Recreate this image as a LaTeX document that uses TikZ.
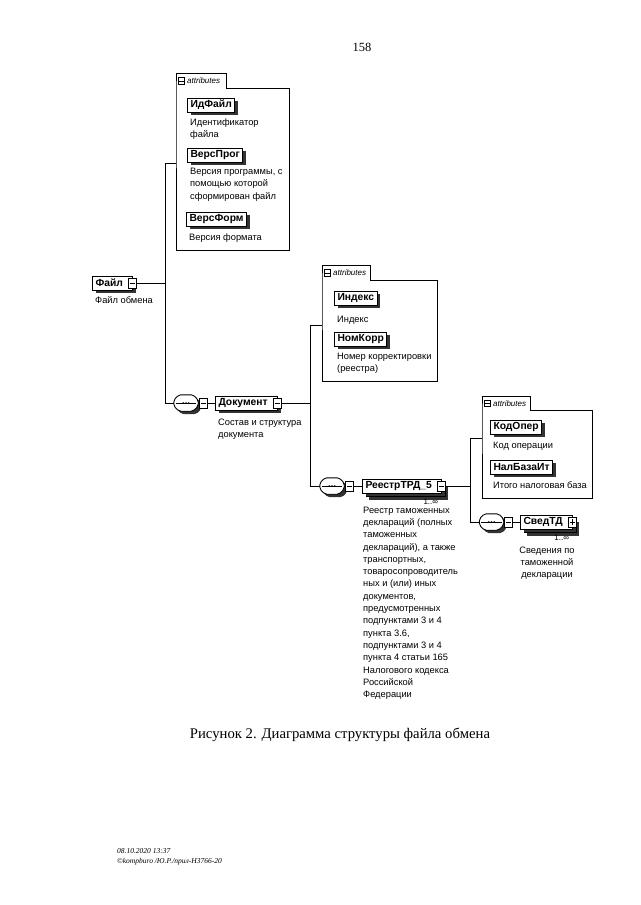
\documentclass[tikz,border=0pt]{standalone}
\usepackage{fontspec}
\setmainfont{Liberation Serif}
\newfontfamily\arialf{Liberation Sans}
\usetikzlibrary{shadows,calc}

\tikzset{
  conn/.style={line width=0.8pt},
  abox/.style={line width=0.9pt},
  shd/.style={drop shadow={shadow xshift=3pt,shadow yshift=-3pt,fill=black!80,opacity=1}},
  elem/.style={draw,line width=1pt,fill=white,shd,anchor=west,
    font=\arialf\bfseries\fontsize{10.3}{12}\selectfont,
    inner xsep=3pt,inner ysep=0pt,minimum height=14pt},
  melem/.style={draw,line width=1pt,fill=white,anchor=west,
    drop shadow={shadow xshift=6.5pt,shadow yshift=-6.5pt,fill=black!80,opacity=1},
    copy shadow={shadow xshift=3.5pt,shadow yshift=-3.5pt,line width=1pt},
    shd,
    font=\arialf\bfseries\fontsize{10.3}{12}\selectfont,
    inner xsep=3pt,inner ysep=0pt,minimum height=14pt},
  icn/.style={draw,line width=0.7pt,fill=white,minimum width=8pt,minimum height=10pt,inner sep=0pt,
    path picture={\draw[line width=0.7pt] ([xshift=1.5pt]path picture bounding box.west) -- ([xshift=-1.5pt]path picture bounding box.east);}},
  icnp/.style={draw,line width=0.7pt,fill=white,minimum width=8pt,minimum height=10pt,inner sep=0pt,
    path picture={\draw[line width=0.7pt] ([xshift=1.5pt]path picture bounding box.west) -- ([xshift=-1.5pt]path picture bounding box.east);
      \draw[line width=0.7pt] ([yshift=2pt]path picture bounding box.south) -- ([yshift=-2pt]path picture bounding box.north);}},
  seqn/.style={inner sep=0pt,minimum width=24pt,minimum height=16pt},
  desc/.style={font=\arialf\fontsize{9.3}{12.3}\selectfont,align=left,inner sep=0pt,anchor=north west},
  occ/.style={font=\arialf\fontsize{8}{9}\selectfont,inner sep=0pt},
  amain/.style={inner sep=0pt,anchor=north west},
  atab/.style={anchor=south west,inner xsep=2pt,inner ysep=0pt,font=\arialf\itshape\fontsize{8}{9}\selectfont},
  aicn/.style={draw,line width=0.6pt,fill=white,minimum size=6.5pt,inner sep=0pt,
    path picture={\draw[line width=0.5pt] ([xshift=1pt]path picture bounding box.west) -- ([xshift=-1pt]path picture bounding box.east);}}
}

% space left free at the right end of an element box for its +/- icon
\newcommand\icnroom{\rule{7pt}{0pt}}
% octagonal outline of a sequence compositor around node #1, shifted by (#2,#3)
\newcommand\seqpath[3]{([xshift=5pt+#2,yshift=#3]#1.north west) -- ([xshift=-5pt+#2,yshift=#3]#1.north east) -- ([xshift=#2,yshift=3pt+#3]#1.east) -- ([xshift=#2,yshift=-3pt+#3]#1.east) -- ([xshift=-5pt+#2,yshift=#3]#1.south east) -- ([xshift=5pt+#2,yshift=#3]#1.south west) -- ([xshift=#2,yshift=-3pt+#3]#1.west) -- ([xshift=#2,yshift=3pt+#3]#1.west) -- cycle}
\newcommand\seqbox[2]{%
  \node[seqn] (#1) at (#2) {};
  \fill[black!80,rounded corners=2pt] \seqpath{#1}{3pt}{-3pt};
  \draw[line width=0.9pt,fill=white,rounded corners=2pt] \seqpath{#1}{0pt}{0pt};
  \draw[line width=0.6pt] ([xshift=2pt]#1.west) -- ([xshift=-2pt]#1.east);
  \foreach \dx in {-2.7,0,2.7} \fill ([xshift=\dx pt]#1.center) circle (0.95pt);
}

\begin{document}
\begin{tikzpicture}[x=1pt,y=-1pt]
\useasboundingbox (0,0) rectangle (640,905);

\node[font=\fontsize{12.5}{14}\selectfont] (pg) at (362,47) {158};

% ---------- attributes box 1
\node[amain,minimum width=113pt,minimum height=162pt] (A1) at (176,88) {};
\node[atab,minimum height=14pt] (T1) at (A1.north west) {\rule{9pt}{0pt}attributes\rule{4pt}{0pt}};
\draw[abox] (T1.south west) -- (T1.north west) -- (T1.north east) -- (T1.south east) -- (A1.north east) -- (A1.south east) -- (A1.south west) -- cycle;
\node[aicn] (T1i) at ([xshift=5.5pt]T1.west) {};
\node[elem] (IdF) at (187,105) {ИдФайл};
\node[desc] (IdFd) at (190,118.5) {Идентификатор\\файла};
\node[elem] (VP) at (187,155) {ВерсПрог};
\node[desc] (VPd) at (190,168) {Версия программы, с\\помощью которой\\сформирован файл};
\node[elem] (VF) at (186,219) {ВерсФорм};
\node[desc] (VFd) at (189,233.5) {Версия формата};

% ---------- attributes box 2
\node[amain,minimum width=115pt,minimum height=101pt] (A2) at (322,280) {};
\node[atab,minimum height=14pt] (T2) at (A2.north west) {\rule{9pt}{0pt}attributes\rule{2pt}{0pt}};
\draw[abox] (T2.south west) -- (T2.north west) -- (T2.north east) -- (T2.south east) -- (A2.north east) -- (A2.south east) -- (A2.south west) -- cycle;
\node[aicn] (T2i) at ([xshift=5.5pt]T2.west) {};
\node[elem] (Ind) at (334,298) {Индекс};
\node[desc] (Indd) at (337,315.5) {Индекс};
\node[elem] (NK) at (334,339) {НомКорр};
\node[desc] (NKd) at (337,352.5) {Номер корректировки\\(реестра)};

% ---------- attributes box 3
\node[amain,minimum width=110pt,minimum height=88pt] (A3) at (482,410) {};
\node[atab,minimum height=13pt] (T3) at (A3.north west) {\rule{9pt}{0pt}attributes\rule{2pt}{0pt}};
\draw[abox] (T3.south west) -- (T3.north west) -- (T3.north east) -- (T3.south east) -- (A3.north east) -- (A3.south east) -- (A3.south west) -- cycle;
\node[aicn] (T3i) at ([xshift=5.5pt]T3.west) {};
\node[elem] (KO) at (490,427) {КодОпер};
\node[desc] (KOd) at (493,441.5) {Код операции};
\node[elem] (NB) at (490,467) {НалБазаИт};
\node[desc] (NBd) at (493,481.5) {Итого налоговая база};

% ---------- Файл
\node[elem] (F) at (92,283) {Файл\icnroom};
\node[icn] (Fi) at ([xshift=-1pt]F.east) {};
\node[desc] (Fd) at (95,296) {Файл обмена};

% ---------- Документ
\seqbox{S1}{186,403}
\node[icn] (S1i) at (203.5,403) {};
\node[elem] (D) at (215,403) {Документ\icnroom};
\node[icn] (Di) at ([xshift=-1pt]D.east) {};
\node[desc] (Dd) at (218,418.5) {Состав и структура\\документа};

% ---------- РеестрТРД_5
\seqbox{S2}{332,486}
\node[icn] (S2i) at (349.5,486) {};
\node[melem] (R) at (362,486) {РеестрТРД\_5\icnroom};
\node[icn] (Ri) at ([xshift=-1pt]R.east) {};
\node[occ,anchor=north east] (Ro) at ([xshift=-4pt,yshift=-5pt]R.south east) {1..∞};
\node[desc] (Rd) at (363,506.5) {Реестр таможенных\\деклараций (полных\\таможенных\\деклараций), а также\\транспортных,\\товаросопроводитель\\ных и (или) иных\\документов,\\предусмотренных\\подпунктами 3 и 4\\пункта 3.6,\\подпунктами 3 и 4\\пункта 4 статьи 165\\Налогового кодекса\\Российской\\Федерации};

% ---------- СведТД
\seqbox{S3}{491.5,522}
\node[icn] (S3i) at (508.5,522) {};
\node[melem] (SV) at (520,522) {СведТД\icnroom};
\node[icnp] (SVi) at ([xshift=-1pt]SV.east) {};
\node[occ,anchor=north east] (SVo) at ([xshift=-4pt,yshift=-5pt]SV.south east) {1..∞};
\node[desc,anchor=north,align=center] (SVd) at (547,546.5) {Сведения по\\таможенной\\декларации};

% ---------- connectors
\coordinate (bus1) at (165,0);
\coordinate (bus2) at (310,0);
\coordinate (bus3) at (470,0);
\coordinate (a1in) at (176,163);
\coordinate (a2in) at (322,325);
\coordinate (a3in) at (482,438);

\draw[conn] (Fi.east) -- (Fi.east -| bus1);
\draw[conn] (a1in) -- (a1in -| bus1) -- (S1.west -| bus1) -- (S1.west);
\draw[conn] (S1.east) -- (S1i.west);
\draw[conn] (S1i.east) -- (D.west);

\draw[conn] (Di.east) -- (Di.east -| bus2);
\draw[conn] (a2in) -- (a2in -| bus2) -- (S2.west -| bus2) -- (S2.west);
\draw[conn] (S2.east) -- (S2i.west);
\draw[conn] (S2i.east) -- (R.west);

\draw[conn] (Ri.east) -- (Ri.east -| bus3);
\draw[conn] (a3in) -- (a3in -| bus3) -- (S3.west -| bus3) -- (S3.west);
\draw[conn] (S3.east) -- (S3i.west);
\draw[conn] (S3i.east) -- (SV.west);

% ---------- caption and footer
\node[font=\fontsize{14.7}{17}\selectfont] (cap) at (340,735) {Рисунок 2. Диаграмма структуры файла обмена};
\node[font=\itshape\fontsize{7.5}{9}\selectfont,anchor=west,inner sep=0pt] (f1) at (117,851) {08.10.2020 13:37};
\node[font=\itshape\fontsize{7.5}{9}\selectfont,anchor=west,inner sep=0pt] (f2) at (117,862) {©kompburo /Ю.Р./прил-Н3766-20};
\end{tikzpicture}
\end{document}
